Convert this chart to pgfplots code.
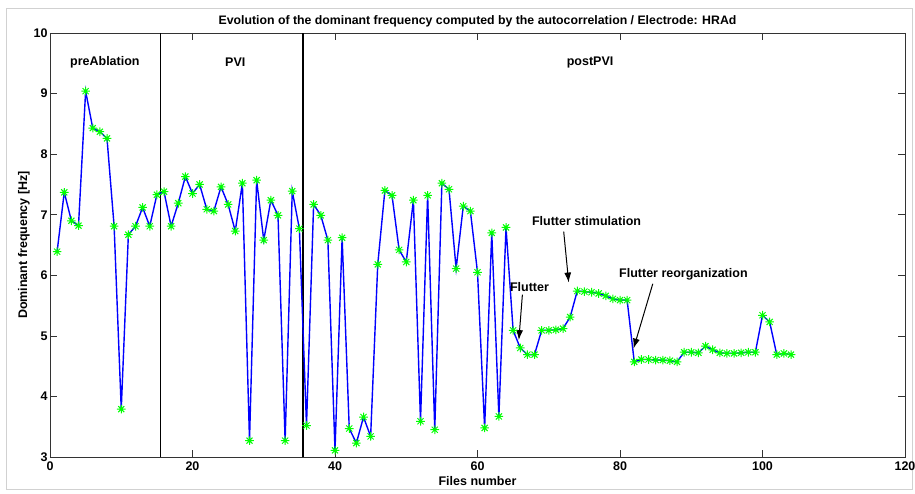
\documentclass[border=0pt]{standalone}
\usepackage{pgfplots}
\pgfplotsset{compat=1.18}
\usepackage{pgfplotstable}
\usepackage{fontspec}
\setmainfont{Liberation Sans}
\usetikzlibrary{arrows.meta}

\definecolor{mblue}{RGB}{0,0,255}
\definecolor{mgreen}{RGB}{0,255,0}

% eight-pointed asterisk: a plus and a cross
\pgfdeclareplotmark{mstar}{%
  \pgfpathmoveto{\pgfqpoint{-\pgfplotmarksize}{0pt}}%
  \pgfpathlineto{\pgfqpoint{\pgfplotmarksize}{0pt}}%
  \pgfpathmoveto{\pgfqpoint{0pt}{-\pgfplotmarksize}}%
  \pgfpathlineto{\pgfqpoint{0pt}{\pgfplotmarksize}}%
  \pgfpathmoveto{\pgfqpoint{-0.707\pgfplotmarksize}{-0.707\pgfplotmarksize}}%
  \pgfpathlineto{\pgfqpoint{0.707\pgfplotmarksize}{0.707\pgfplotmarksize}}%
  \pgfpathmoveto{\pgfqpoint{-0.707\pgfplotmarksize}{0.707\pgfplotmarksize}}%
  \pgfpathlineto{\pgfqpoint{0.707\pgfplotmarksize}{-0.707\pgfplotmarksize}}%
  \pgfusepathqstroke}

% file index, dominant frequency in Hz
\pgfplotstableread{
n f
1 6.39
2 7.37
3 6.90
4 6.82
5 9.04
6 8.43
7 8.37
8 8.26
9 6.81
10 3.79
11 6.67
12 6.81
13 7.12
14 6.81
15 7.33
16 7.38
17 6.81
18 7.19
19 7.63
20 7.35
21 7.50
22 7.09
23 7.06
24 7.46
25 7.17
26 6.73
27 7.52
28 3.27
29 7.57
30 6.58
31 7.24
32 6.99
33 3.27
34 7.39
35 6.77
36 3.52
37 7.17
38 6.99
39 6.58
40 3.11
41 6.62
42 3.47
43 3.23
44 3.66
45 3.34
46 6.18
47 7.40
48 7.32
49 6.42
50 6.22
51 7.24
52 3.59
53 7.32
54 3.45
55 7.52
56 7.42
57 6.11
58 7.14
59 7.06
60 6.05
61 3.48
62 6.70
63 3.67
64 6.79
65 5.09
66 4.80
67 4.69
68 4.69
69 5.09
70 5.09
71 5.10
72 5.12
73 5.31
74 5.74
75 5.73
76 5.72
77 5.70
78 5.66
79 5.61
80 5.59
81 5.59
82 4.57
83 4.61
84 4.61
85 4.60
86 4.60
87 4.59
88 4.57
89 4.73
90 4.73
91 4.72
92 4.83
93 4.77
94 4.72
95 4.71
96 4.71
97 4.72
98 4.73
99 4.73
100 5.34
101 5.23
102 4.69
103 4.71
104 4.69
}\domfreq

\begin{document}
\begin{tikzpicture}[x=1pt,y=1pt]
\useasboundingbox (0,0) rectangle (915,493);
\draw[black!18, line width=0.8pt] (6,4) rectangle (912,485);
\begin{axis}[
  at={(50pt,36pt)}, anchor=south west,
  scale only axis, width=855pt, height=424pt,
  xmin=0, xmax=120, ymin=3, ymax=10,
  xtick={0,20,...,120}, ytick={3,4,...,10},
  axis line style={black!80, line width=0.8pt},
  major tick style={black!80, line width=0.6pt},
  major tick length=7pt,
  tick align=inside,
  /pgf/number format/assume math mode=true,
  ticklabel style={font=\fontsize{12.5}{14}\selectfont\bfseries},
  xticklabel style={yshift=-1pt},
  yticklabel style={xshift=1pt},
  label style={font=\fontsize{12.5}{14}\selectfont\bfseries},
  xlabel={Files number},
  ylabel={Dominant frequency [Hz]},
  xlabel style={yshift=1pt},
  ylabel style={yshift=-3pt},
  title={Evolution of the dominant frequency computed by the autocorrelation / Electrode: HRAd},
  title style={font=\fontsize{12.3}{14}\selectfont\bfseries, yshift=-4pt},
  clip=false,
]
\addplot[black, line width=1.2pt, forget plot] coordinates {(15.5,3) (15.5,10)};
\addplot[black, line width=1.2pt, forget plot] coordinates {(35.5,3) (35.5,10)};
\addplot[mblue, line width=1.4pt, mark=mstar, mark size=4.3pt,
  mark options={mgreen, line width=1pt}] table[x=n, y=f] {\domfreq};

\begin{scope}[font=\fontsize{12.5}{14}\selectfont\bfseries]
\node at (axis cs:7.7,9.52) {preAblation};
\node at (axis cs:26,9.52) {PVI};
\node at (axis cs:75.8,9.52) {postPVI};
\node at (axis cs:67.3,5.81) {Flutter};
\node at (axis cs:75.3,6.90) {Flutter stimulation};
\node at (axis cs:88.9,6.01) {Flutter reorganization};
\end{scope}
\draw[-{Latex[length=10pt,width=7pt]}, line width=1pt] (axis cs:66.3,5.68) -- (axis cs:65.8,4.93);
\draw[-{Latex[length=10pt,width=7pt]}, line width=1pt] (axis cs:72.1,6.72) -- (axis cs:72.8,5.88);
\draw[-{Latex[length=10pt,width=7pt]}, line width=1pt] (axis cs:84.6,5.86) -- (axis cs:81.9,4.79);
\end{axis}
\end{tikzpicture}
\end{document}
